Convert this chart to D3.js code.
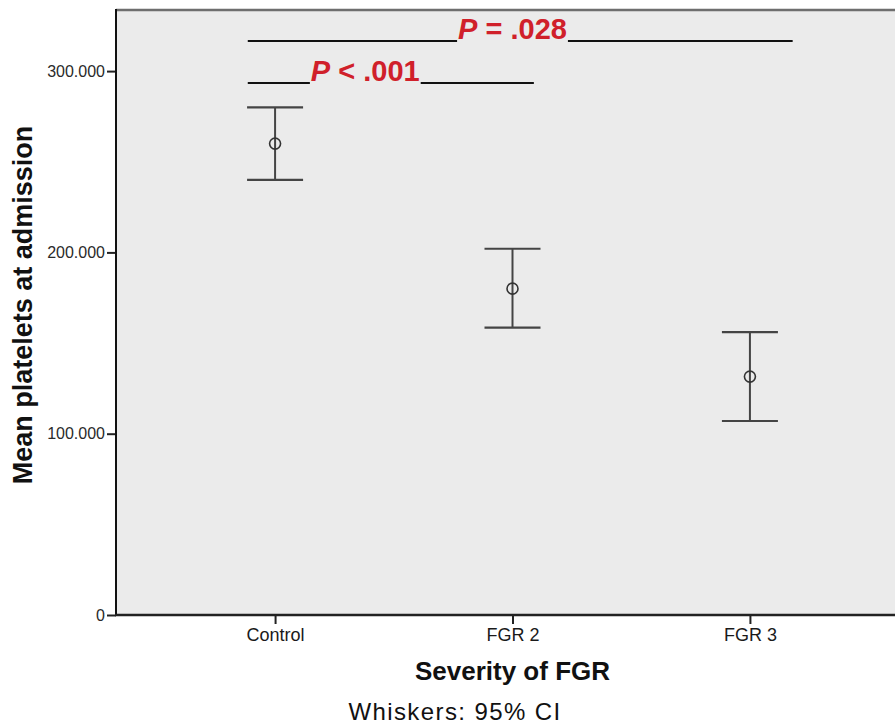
<!DOCTYPE html>
<html>
<head>
<meta charset="utf-8">
<script src="https://cdn.jsdelivr.net/npm/d3@7"></script>
<style>
  body { margin: 0; background: #fff; }
  svg { font-family: "Liberation Sans", Arial, Helvetica, sans-serif; }
</style>
</head>
<body>
<script>
const categories = ["Control", "FGR 2", "FGR 3"];
const means = [260, 180, 131.5];
const ci_low = [240, 158.5, 107];
const ci_high = [280, 202, 156];
const y_ticks = [0, 100, 200, 300];
const y_tick_labels = ["0", "100.000", "200.000", "300.000"];
// significance brackets: [from index, to index] spans in category-index units
const comparisons = [
  {label_p: "P", label_rest: " = .028", from: -0.115, to: 2.18, text_at: 1, row: 0},
  {label_p: "P", label_rest: " < .001", from: -0.115, to: 1.09, text_at: 0.38, row: 1}
];

const W = 895, H = 727;
const plot = {left: 116, top: 10, right: 909, bottom: 615};

const svg = d3.select("body").append("svg")
    .attr("width", W)
    .attr("height", H);

const x = d3.scalePoint()
    .domain(categories)
    .range([plot.left, plot.right])
    .padding(0.67);
const xi = d3.scaleLinear()
    .domain([0, categories.length - 1])
    .range([x(categories[0]), x(categories[categories.length - 1])]);
const y = d3.scaleLinear()
    .domain([0, 100])
    .range([plot.bottom, plot.bottom - 181.3]);

// background
svg.append("rect")
    .attr("x", plot.left)
    .attr("y", plot.top)
    .attr("width", W - plot.left + 5)
    .attr("height", plot.bottom - plot.top)
    .attr("fill", "#ebebeb");

// top border
svg.append("line")
    .attr("x1", plot.left).attr("x2", W)
    .attr("y1", plot.top).attr("y2", plot.top)
    .attr("stroke", "#6e6e6e").attr("stroke-width", 2.5);

// y axis
const yAxis = svg.append("g")
    .attr("transform", "translate(" + plot.left + ",0)")
    .call(d3.axisLeft(y)
      .tickValues(y_ticks)
      .tickSize(9)
      .tickFormat((d, i) => y_tick_labels[i]));
yAxis.select(".domain").remove();
yAxis.selectAll(".tick line").attr("stroke", "#222").attr("stroke-width", 2);
yAxis.selectAll(".tick text")
    .attr("font-size", 16)
    .attr("fill", "#2a2a2a")
    .attr("x", -11)
    .style("font-family", "Liberation Sans, Arial, sans-serif");

svg.append("line")
    .attr("x1", plot.left).attr("x2", plot.left)
    .attr("y1", plot.top - 1).attr("y2", plot.bottom + 1)
    .attr("stroke", "#111").attr("stroke-width", 2);

// x axis
const xAxis = svg.append("g")
    .attr("transform", "translate(0," + plot.bottom + ")")
    .call(d3.axisBottom(x).tickSize(9).tickSizeOuter(0));
xAxis.select(".domain").remove();
xAxis.selectAll(".tick line").attr("stroke", "#222").attr("stroke-width", 2);
xAxis.selectAll(".tick text")
    .attr("font-size", 18)
    .attr("fill", "#1a1a1a")
    .attr("y", 13)
    .style("font-family", "Liberation Sans, Arial, sans-serif");

svg.append("line")
    .attr("x1", plot.left - 1).attr("x2", W)
    .attr("y1", plot.bottom).attr("y2", plot.bottom)
    .attr("stroke", "#222").attr("stroke-width", 2.5);

// error bars
const cap = 28;
const bars = svg.append("g");
categories.forEach((c, i) => {
  const cx = x(c);
  bars.append("line")
      .attr("x1", cx).attr("x2", cx)
      .attr("y1", y(ci_low[i])).attr("y2", y(ci_high[i]))
      .attr("stroke", "#444").attr("stroke-width", 2);
  [ci_low[i], ci_high[i]].forEach(v => {
    bars.append("line")
        .attr("x1", cx - cap).attr("x2", cx + cap)
        .attr("y1", y(v)).attr("y2", y(v))
        .attr("stroke", "#444").attr("stroke-width", 2.2);
  });
  bars.append("circle")
      .attr("cx", cx).attr("cy", y(means[i]))
      .attr("r", 5.5)
      .attr("fill", "none")
      .attr("stroke", "#333")
      .attr("stroke-width", 1.6);
});

// significance annotations
const rowY = [41, 83];
comparisons.forEach(cmp => {
  const ly = rowY[cmp.row];
  const t = svg.append("text")
      .attr("x", xi(cmp.text_at))
      .attr("y", ly - 2)
      .attr("text-anchor", "middle")
      .attr("font-size", 29)
      .attr("font-weight", "bold")
      .attr("fill", "#d0202a");
  t.append("tspan").attr("font-style", "italic").text(cmp.label_p);
  t.append("tspan").text(cmp.label_rest);
  const bb = t.node().getBBox();
  svg.append("line")
      .attr("x1", xi(cmp.from)).attr("x2", bb.x - 1)
      .attr("y1", ly).attr("y2", ly)
      .attr("stroke", "#111").attr("stroke-width", 2);
  svg.append("line")
      .attr("x1", bb.x + bb.width + 1).attr("x2", xi(cmp.to))
      .attr("y1", ly).attr("y2", ly)
      .attr("stroke", "#111").attr("stroke-width", 2);
});

// axis titles
svg.append("text")
    .attr("transform", "translate(32,305) rotate(-90)")
    .attr("text-anchor", "middle")
    .attr("font-size", 27)
    .attr("font-weight", "bold")
    .attr("fill", "#111")
    .text("Mean platelets at admission");

svg.append("text")
    .attr("x", x("FGR 2"))
    .attr("y", 680)
    .attr("text-anchor", "middle")
    .attr("font-size", 26)
    .attr("font-weight", "bold")
    .attr("fill", "#111")
    .text("Severity of FGR");

svg.append("text")
    .attr("x", 455)
    .attr("y", 720)
    .attr("text-anchor", "middle")
    .attr("font-size", 24)
    .attr("letter-spacing", 1.4)
    .attr("fill", "#111")
    .text("Whiskers: 95% CI");
</script>
</body>
</html>
